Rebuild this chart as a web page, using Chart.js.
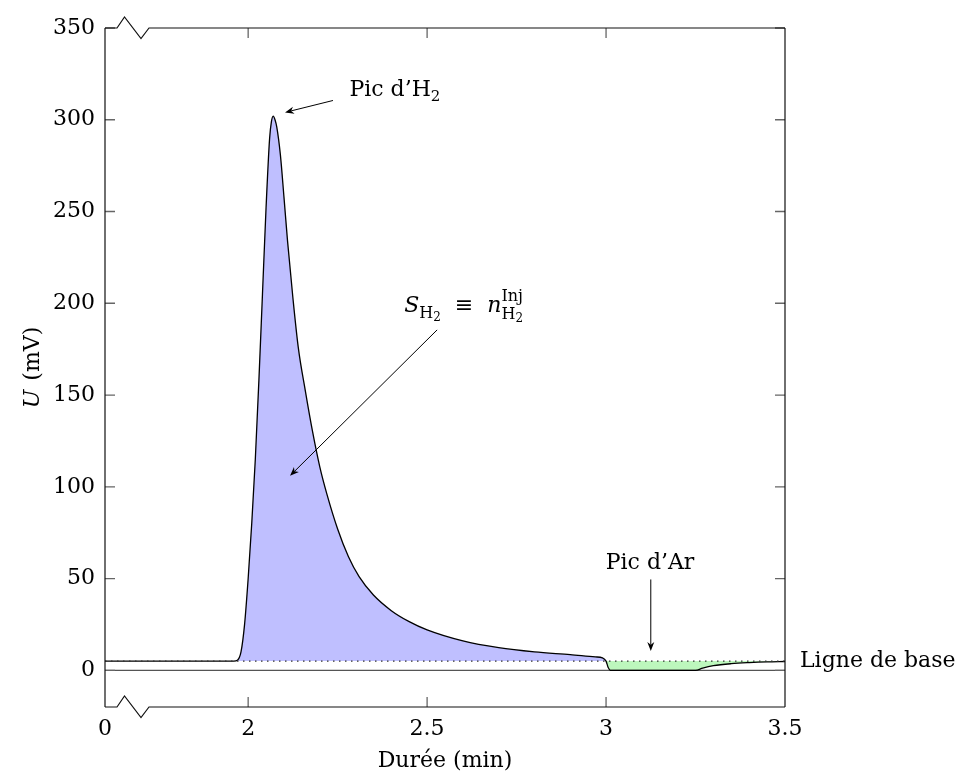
<!DOCTYPE html>
<html>
<head>
<meta charset="utf-8">
<script src="https://cdn.jsdelivr.net/npm/chart.js@4.4.1/dist/chart.umd.min.js"></script>
<style>
  html, body { margin: 0; padding: 0; background: #fff; }
  #wrap { width: 960px; height: 778px; }
</style>
</head>
<body>
<div id="wrap"><canvas id="chromChart"></canvas></div>
<script>
// chromatogramme : durée (min) / tension (mV)
const duration = [1.6, 1.8, 1.96, 1.97, 1.98, 1.99, 2.0, 2.01, 2.02, 2.03, 2.04, 2.05, 2.06, 2.065, 2.07, 2.075,
  2.08, 2.09, 2.1, 2.11, 2.125, 2.14, 2.16, 2.18, 2.2, 2.22, 2.25, 2.28, 2.31, 2.35, 2.4, 2.45, 2.5,
  2.6, 2.7, 2.8, 2.9, 2.97, 2.99, 3.0, 3.006, 3.012, 3.1, 3.2, 3.25, 3.27, 3.3, 3.35, 3.4, 3.45, 3.5];
const signal = [5, 5, 5, 5.5, 10, 25, 50, 80, 115, 158, 205, 252, 290, 299, 302, 300,
  296, 281, 258, 234, 203, 176, 152, 130, 111, 96, 77, 62, 51, 41, 32.5, 26.5, 22,
  16, 12.3, 10, 8.5, 7.3, 6.8, 5, 1.5, 0, 0, 0, 0, 1.2, 2.5, 3.6, 4.2, 4.6, 4.8];

const baseLevel = 5;
const xRange = [1.6, 3.5];
const yRange = [-20, 350];
const xTickValues = [1.6, 2, 2.5, 3, 3.5];
const xTickLabels = ['0', '2', '2.5', '3', '3.5'];
const yTickValues = [0, 50, 100, 150, 200, 250, 300, 350];

const FONT = 'DejaVu Serif';
const tickFont = { family: FONT, size: 22 };

// rich text: segments {t, size, italic, dy, mark, back}
function drawRich(ctx, x, y, segs, align) {
  const widths = [];
  let cx = 0, maxX = 0, markX = 0;
  segs.forEach(s => {
    ctx.font = (s.italic ? 'italic ' : '') + (s.size || 22) + 'px "' + FONT + '"';
    if (s.back) cx = markX;
    if (s.mark) markX = cx;
    const w = ctx.measureText(s.t).width;
    widths.push({ x: cx, w });
    cx += w + (s.gap || 0);
    maxX = Math.max(maxX, cx);
  });
  let x0 = x;
  if (align === 'center') x0 = x - maxX / 2;
  if (align === 'right') x0 = x - maxX;
  ctx.textAlign = 'left';
  ctx.textBaseline = 'alphabetic';
  segs.forEach((s, i) => {
    ctx.font = (s.italic ? 'italic ' : '') + (s.size || 22) + 'px "' + FONT + '"';
    ctx.fillText(s.t, x0 + widths[i].x, y + (s.dy || 0));
  });
}

function arrow(ctx, x1, y1, x2, y2) {
  const ang = Math.atan2(y2 - y1, x2 - x1);
  const len = 9, hw = 3.5;
  ctx.beginPath();
  ctx.moveTo(x1, y1);
  ctx.lineTo(x2 - Math.cos(ang) * len * 0.7, y2 - Math.sin(ang) * len * 0.7);
  ctx.stroke();
  ctx.beginPath();
  ctx.moveTo(x2, y2);
  ctx.lineTo(x2 - Math.cos(ang) * len - Math.sin(ang) * hw, y2 - Math.sin(ang) * len + Math.cos(ang) * hw);
  ctx.lineTo(x2 - Math.cos(ang) * len * 0.7, y2 - Math.sin(ang) * len * 0.7);
  ctx.lineTo(x2 - Math.cos(ang) * len + Math.sin(ang) * hw, y2 - Math.sin(ang) * len - Math.cos(ang) * hw);
  ctx.closePath();
  ctx.fill();
}

const framePlugin = {
  id: 'frame',
  afterDraw(chart) {
    const { ctx, chartArea: a, scales: { x, y } } = chart;
    ctx.save();
    // ticks (inward)
    ctx.strokeStyle = '#666';
    ctx.lineWidth = 1.3;
    ctx.beginPath();
    yTickValues.forEach(v => {
      const py = y.getPixelForValue(v);
      ctx.moveTo(a.left, py); ctx.lineTo(a.left + 10, py);
      ctx.moveTo(a.right, py); ctx.lineTo(a.right - 10, py);
    });
    xTickValues.slice(1, -1).forEach(v => {
      const px = x.getPixelForValue(v);
      ctx.moveTo(px, a.bottom); ctx.lineTo(px, a.bottom - 10);
      ctx.moveTo(px, a.top); ctx.lineTo(px, a.top + 10);
    });
    ctx.stroke();

    // cadre avec coupure de l'axe
    ctx.strokeStyle = '#111';
    ctx.lineWidth = 1.2;
    ctx.beginPath();
    ctx.moveTo(a.left, a.top); ctx.lineTo(a.left, a.bottom);
    ctx.moveTo(a.right, a.top); ctx.lineTo(a.right, a.bottom);
    [a.top, a.bottom].forEach(yy => {
      ctx.moveTo(a.left, yy);
      ctx.lineTo(a.left + 12, yy);
      ctx.lineTo(a.left + 19.5, yy - 11);
      ctx.lineTo(a.left + 36, yy + 10.5);
      ctx.lineTo(a.left + 44, yy);
      ctx.lineTo(a.right, yy);
    });
    ctx.stroke();

    // titre de l'axe y
    ctx.fillStyle = '#000';
    ctx.save();
    ctx.translate(31, (a.top + a.bottom) / 2);
    ctx.rotate(-Math.PI / 2);
    drawRich(ctx, 0, 8, [{ t: 'U', italic: true, gap: 2 }, { t: ' (mV)' }], 'center');
    ctx.restore();

    // annotations
    ctx.strokeStyle = '#000';
    ctx.lineWidth = 1;
    const P = (xv, yv) => [x.getPixelForValue(xv), y.getPixelForValue(yv)];

    let t = P(2.41, 313);
    drawRich(ctx, t[0], t[1], [{ t: 'Pic d’H' }, { t: '2', size: 15, dy: 5 }], 'center');
    arrow(ctx, ...P(2.237, 310.5), ...P(2.103, 304));

    t = P(2.436, 195.5);
    drawRich(ctx, t[0], t[1], [
      { t: 'S', italic: true },
      { t: 'H', size: 16, dy: 6 }, { t: '2', size: 12, dy: 9 },
      { t: '  ≡  ' },
      { t: 'n', italic: true },
      { t: 'Inj', size: 16, dy: -11, mark: true },
      { t: 'H', size: 16, dy: 7, back: true }, { t: '2', size: 12, dy: 10 }
    ], 'left');
    arrow(ctx, ...P(2.528, 185.5), ...P(2.117, 106));

    t = P(3.123, 55);
    drawRich(ctx, t[0], t[1], [{ t: 'Pic d’Ar' }], 'center');
    arrow(ctx, ...P(3.125, 49.5), ...P(3.125, 10.5));

    ctx.font = '22px "' + FONT + '"';
    ctx.textAlign = 'left';
    ctx.textBaseline = 'middle';
    ctx.fillText('Ligne de base', a.right + 15, y.getPixelForValue(baseLevel));
    ctx.restore();
  }
};

const points = duration.map((d, i) => ({ x: d, y: signal[i] }));

new Chart(document.getElementById('chromChart'), {
  type: 'line',
  data: {
    datasets: [
      {
        label: 'Ligne de base',
        data: [{ x: xRange[0], y: baseLevel }, { x: xRange[1], y: baseLevel }],
        borderColor: '#333',
        borderWidth: 1.2,
        borderDash: [1.5, 4.5],
        pointRadius: 0,
        fill: false
      },
      {
        label: 'U',
        data: points,
        borderColor: '#000',
        borderWidth: 1.3,
        pointRadius: 0,
        cubicInterpolationMode: 'monotone',
        fill: { target: { value: baseLevel }, above: 'rgb(191,191,255)', below: 'rgb(189,247,189)' }
      },
      {
        label: 'zéro',
        data: [{ x: xRange[0], y: 0 }, { x: xRange[1], y: 0 }],
        borderColor: '#555',
        borderWidth: 1.3,
        pointRadius: 0,
        fill: false
      }
    ]
  },
  options: {
    responsive: true,
    maintainAspectRatio: false,
    animation: false,
    layout: { padding: { top: 28, right: 175, left: 0, bottom: 0 } },
    plugins: {
      legend: { display: false },
      tooltip: { enabled: false },
      filler: { drawTime: 'beforeDatasetsDraw' }
    },
    scales: {
      x: {
        type: 'linear',
        min: xRange[0],
        max: xRange[1],
        afterBuildTicks: s => { s.ticks = xTickValues.map(v => ({ value: v })); },
        afterFit: s => { s.height = 71; },
        grid: { display: false, drawTicks: false },
        border: { display: false },
        ticks: {
          font: tickFont, color: '#000', padding: 9, maxRotation: 0, autoSkip: false,
          callback: (v, i) => xTickLabels[i]
        },
        title: { display: true, text: 'Durée (min)', font: tickFont, color: '#000', padding: { top: 0, bottom: 4 } }
      },
      y: {
        min: yRange[0],
        max: yRange[1],
        afterBuildTicks: s => { s.ticks = yTickValues.map(v => ({ value: v })); },
        afterFit: s => { s.width = 105; },
        grid: { display: false, drawTicks: false },
        border: { display: false },
        ticks: { font: tickFont, color: '#000', padding: 10 }
      }
    }
  },
  plugins: [framePlugin]
});
</script>
</body>
</html>
